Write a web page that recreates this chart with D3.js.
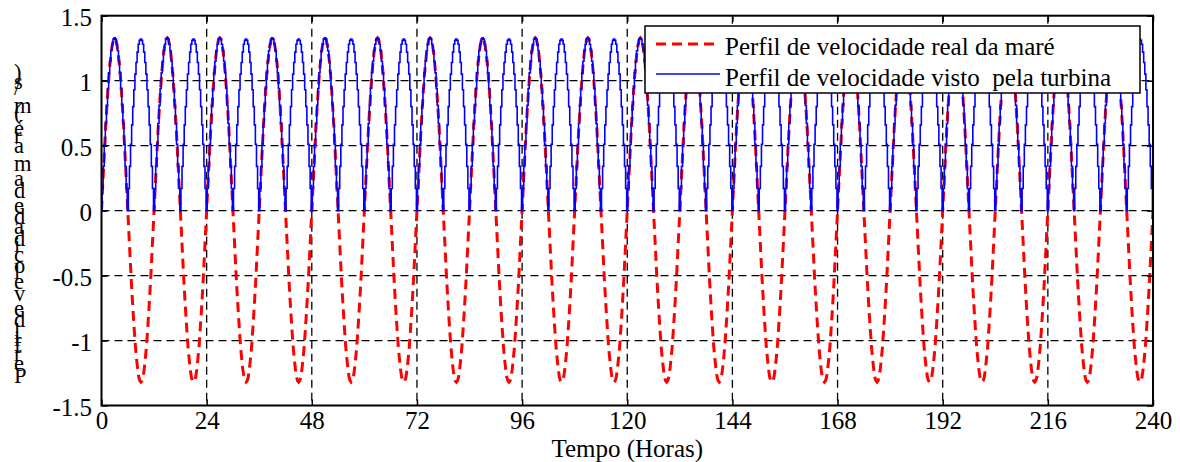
<!DOCTYPE html>
<html>
<head lang="pt">
    <meta charset="UTF-8">
    <title> Perfil de velocidade </title>
    <script type="text/javascript" src="https://cdn.jsdelivr.net/npm/d3@7/dist/d3.min.js"></script>
    <style>
        body { margin: 0; background: #fff; }
        text { font-family: "Liberation Serif", "Times New Roman", serif; fill: #000; }
    </style>
</head>
<body>
<div id="chart"></div>

<script>

    // samples every 15 minutes
    var stepHours = 0.25;

    var xTicks = [0, 24, 48, 72, 96, 120, 144, 168, 192, 216, 240];
    var yTicks = [-1.5, -1, -0.5, 0, 0.5, 1, 1.5];
    var xLabel = "Tempo (Horas)";
    var yLabel = "Perfil de velocidade da maré (m/s)";
    var seriesNames = ["Perfil de velocidade real da maré", "Perfil de velocidade visto  pela turbina"];

    // real tide speed (m/s), one row per 12 h cycle
    var tideSpeed = [
        0,0.17,0.34,0.51,0.67,0.81,0.94,1.06,1.15,1.23,1.28,1.32,1.33,1.32,1.28,1.23,1.15,1.06,0.94,0.81,0.67,0.51,0.34,0.17,0,-0.17,-0.34,-0.51,-0.66,-0.8,-0.93,-1.05,-1.14,-1.22,-1.28,-1.31,-1.32,-1.31,-1.28,-1.22,-1.14,-1.05,-0.93,-0.8,-0.66,-0.51,-0.34,-0.17,
        0,0.17,0.34,0.51,0.67,0.81,0.94,1.06,1.15,1.23,1.28,1.32,1.33,1.32,1.28,1.23,1.15,1.06,0.94,0.81,0.67,0.51,0.34,0.17,0,-0.17,-0.34,-0.51,-0.66,-0.8,-0.93,-1.05,-1.14,-1.22,-1.28,-1.31,-1.32,-1.31,-1.28,-1.22,-1.14,-1.05,-0.93,-0.8,-0.66,-0.51,-0.34,-0.17,
        0,0.17,0.34,0.51,0.67,0.81,0.94,1.06,1.15,1.23,1.28,1.32,1.33,1.32,1.28,1.23,1.15,1.06,0.94,0.81,0.67,0.51,0.34,0.17,0,-0.17,-0.34,-0.51,-0.66,-0.8,-0.93,-1.05,-1.14,-1.22,-1.28,-1.31,-1.32,-1.31,-1.28,-1.22,-1.14,-1.05,-0.93,-0.8,-0.66,-0.51,-0.34,-0.17,
        0,0.17,0.34,0.51,0.67,0.81,0.94,1.06,1.15,1.23,1.28,1.32,1.33,1.32,1.28,1.23,1.15,1.06,0.94,0.81,0.67,0.51,0.34,0.17,0,-0.17,-0.34,-0.51,-0.66,-0.8,-0.93,-1.05,-1.14,-1.22,-1.28,-1.31,-1.32,-1.31,-1.28,-1.22,-1.14,-1.05,-0.93,-0.8,-0.66,-0.51,-0.34,-0.17,
        0,0.17,0.34,0.51,0.67,0.81,0.94,1.06,1.15,1.23,1.28,1.32,1.33,1.32,1.28,1.23,1.15,1.06,0.94,0.81,0.67,0.51,0.34,0.17,0,-0.17,-0.34,-0.51,-0.66,-0.8,-0.93,-1.05,-1.14,-1.22,-1.28,-1.31,-1.32,-1.31,-1.28,-1.22,-1.14,-1.05,-0.93,-0.8,-0.66,-0.51,-0.34,-0.17,
        0,0.17,0.34,0.51,0.67,0.81,0.94,1.06,1.15,1.23,1.28,1.32,1.33,1.32,1.28,1.23,1.15,1.06,0.94,0.81,0.67,0.51,0.34,0.17,0,-0.17,-0.34,-0.51,-0.66,-0.8,-0.93,-1.05,-1.14,-1.22,-1.28,-1.31,-1.32,-1.31,-1.28,-1.22,-1.14,-1.05,-0.93,-0.8,-0.66,-0.51,-0.34,-0.17,
        0,0.17,0.34,0.51,0.67,0.81,0.94,1.06,1.15,1.23,1.28,1.32,1.33,1.32,1.28,1.23,1.15,1.06,0.94,0.81,0.67,0.51,0.34,0.17,0,-0.17,-0.34,-0.51,-0.66,-0.8,-0.93,-1.05,-1.14,-1.22,-1.28,-1.31,-1.32,-1.31,-1.28,-1.22,-1.14,-1.05,-0.93,-0.8,-0.66,-0.51,-0.34,-0.17,
        0,0.17,0.34,0.51,0.67,0.81,0.94,1.06,1.15,1.23,1.28,1.32,1.33,1.32,1.28,1.23,1.15,1.06,0.94,0.81,0.67,0.51,0.34,0.17,0,-0.17,-0.34,-0.51,-0.66,-0.8,-0.93,-1.05,-1.14,-1.22,-1.28,-1.31,-1.32,-1.31,-1.28,-1.22,-1.14,-1.05,-0.93,-0.8,-0.66,-0.51,-0.34,-0.17,
        0,0.17,0.34,0.51,0.67,0.81,0.94,1.06,1.15,1.23,1.28,1.32,1.33,1.32,1.28,1.23,1.15,1.06,0.94,0.81,0.67,0.51,0.34,0.17,0,-0.17,-0.34,-0.51,-0.66,-0.8,-0.93,-1.05,-1.14,-1.22,-1.28,-1.31,-1.32,-1.31,-1.28,-1.22,-1.14,-1.05,-0.93,-0.8,-0.66,-0.51,-0.34,-0.17,
        0,0.17,0.34,0.51,0.67,0.81,0.94,1.06,1.15,1.23,1.28,1.32,1.33,1.32,1.28,1.23,1.15,1.06,0.94,0.81,0.67,0.51,0.34,0.17,0,-0.17,-0.34,-0.51,-0.66,-0.8,-0.93,-1.05,-1.14,-1.22,-1.28,-1.31,-1.32,-1.31,-1.28,-1.22,-1.14,-1.05,-0.93,-0.8,-0.66,-0.51,-0.34,-0.17,
        0,0.17,0.34,0.51,0.67,0.81,0.94,1.06,1.15,1.23,1.28,1.32,1.33,1.32,1.28,1.23,1.15,1.06,0.94,0.81,0.67,0.51,0.34,0.17,0,-0.17,-0.34,-0.51,-0.66,-0.8,-0.93,-1.05,-1.14,-1.22,-1.28,-1.31,-1.32,-1.31,-1.28,-1.22,-1.14,-1.05,-0.93,-0.8,-0.66,-0.51,-0.34,-0.17,
        0,0.17,0.34,0.51,0.67,0.81,0.94,1.06,1.15,1.23,1.28,1.32,1.33,1.32,1.28,1.23,1.15,1.06,0.94,0.81,0.67,0.51,0.34,0.17,0,-0.17,-0.34,-0.51,-0.66,-0.8,-0.93,-1.05,-1.14,-1.22,-1.28,-1.31,-1.32,-1.31,-1.28,-1.22,-1.14,-1.05,-0.93,-0.8,-0.66,-0.51,-0.34,-0.17,
        0,0.17,0.34,0.51,0.67,0.81,0.94,1.06,1.15,1.23,1.28,1.32,1.33,1.32,1.28,1.23,1.15,1.06,0.94,0.81,0.67,0.51,0.34,0.17,0,-0.17,-0.34,-0.51,-0.66,-0.8,-0.93,-1.05,-1.14,-1.22,-1.28,-1.31,-1.32,-1.31,-1.28,-1.22,-1.14,-1.05,-0.93,-0.8,-0.66,-0.51,-0.34,-0.17,
        0,0.17,0.34,0.51,0.67,0.81,0.94,1.06,1.15,1.23,1.28,1.32,1.33,1.32,1.28,1.23,1.15,1.06,0.94,0.81,0.67,0.51,0.34,0.17,0,-0.17,-0.34,-0.51,-0.66,-0.8,-0.93,-1.05,-1.14,-1.22,-1.28,-1.31,-1.32,-1.31,-1.28,-1.22,-1.14,-1.05,-0.93,-0.8,-0.66,-0.51,-0.34,-0.17,
        0,0.17,0.34,0.51,0.67,0.81,0.94,1.06,1.15,1.23,1.28,1.32,1.33,1.32,1.28,1.23,1.15,1.06,0.94,0.81,0.67,0.51,0.34,0.17,0,-0.17,-0.34,-0.51,-0.66,-0.8,-0.93,-1.05,-1.14,-1.22,-1.28,-1.31,-1.32,-1.31,-1.28,-1.22,-1.14,-1.05,-0.93,-0.8,-0.66,-0.51,-0.34,-0.17,
        0,0.17,0.34,0.51,0.67,0.81,0.94,1.06,1.15,1.23,1.28,1.32,1.33,1.32,1.28,1.23,1.15,1.06,0.94,0.81,0.67,0.51,0.34,0.17,0,-0.17,-0.34,-0.51,-0.66,-0.8,-0.93,-1.05,-1.14,-1.22,-1.28,-1.31,-1.32,-1.31,-1.28,-1.22,-1.14,-1.05,-0.93,-0.8,-0.66,-0.51,-0.34,-0.17,
        0,0.17,0.34,0.51,0.67,0.81,0.94,1.06,1.15,1.23,1.28,1.32,1.33,1.32,1.28,1.23,1.15,1.06,0.94,0.81,0.67,0.51,0.34,0.17,0,-0.17,-0.34,-0.51,-0.66,-0.8,-0.93,-1.05,-1.14,-1.22,-1.28,-1.31,-1.32,-1.31,-1.28,-1.22,-1.14,-1.05,-0.93,-0.8,-0.66,-0.51,-0.34,-0.17,
        0,0.17,0.34,0.51,0.67,0.81,0.94,1.06,1.15,1.23,1.28,1.32,1.33,1.32,1.28,1.23,1.15,1.06,0.94,0.81,0.67,0.51,0.34,0.17,0,-0.17,-0.34,-0.51,-0.66,-0.8,-0.93,-1.05,-1.14,-1.22,-1.28,-1.31,-1.32,-1.31,-1.28,-1.22,-1.14,-1.05,-0.93,-0.8,-0.66,-0.51,-0.34,-0.17,
        0,0.17,0.34,0.51,0.67,0.81,0.94,1.06,1.15,1.23,1.28,1.32,1.33,1.32,1.28,1.23,1.15,1.06,0.94,0.81,0.67,0.51,0.34,0.17,0,-0.17,-0.34,-0.51,-0.66,-0.8,-0.93,-1.05,-1.14,-1.22,-1.28,-1.31,-1.32,-1.31,-1.28,-1.22,-1.14,-1.05,-0.93,-0.8,-0.66,-0.51,-0.34,-0.17,
        0,0.17,0.34,0.51,0.67,0.81,0.94,1.06,1.15,1.23,1.28,1.32,1.33,1.32,1.28,1.23,1.15,1.06,0.94,0.81,0.67,0.51,0.34,0.17,0,-0.17,-0.34,-0.51,-0.66,-0.8,-0.93,-1.05,-1.14,-1.22,-1.28,-1.31,-1.32,-1.31,-1.28,-1.22,-1.14,-1.05,-0.93,-0.8,-0.66,-0.51,-0.34,-0.17,
        0
    ];

    // speed seen by the turbine (m/s)
    var turbineSpeed = [
        0,0.17,0.34,0.51,0.67,0.81,0.94,1.06,1.15,1.23,1.28,1.32,1.33,1.32,1.28,1.23,1.15,1.06,0.94,0.81,0.67,0.51,0.34,0.17,0,0.17,0.34,0.51,0.66,0.8,0.93,1.05,1.14,1.22,1.28,1.31,1.32,1.31,1.28,1.22,1.14,1.05,0.93,0.8,0.66,0.51,0.34,0.17,
        0,0.17,0.34,0.51,0.67,0.81,0.94,1.06,1.15,1.23,1.28,1.32,1.33,1.32,1.28,1.23,1.15,1.06,0.94,0.81,0.67,0.51,0.34,0.17,0,0.17,0.34,0.51,0.66,0.8,0.93,1.05,1.14,1.22,1.28,1.31,1.32,1.31,1.28,1.22,1.14,1.05,0.93,0.8,0.66,0.51,0.34,0.17,
        0,0.17,0.34,0.51,0.67,0.81,0.94,1.06,1.15,1.23,1.28,1.32,1.33,1.32,1.28,1.23,1.15,1.06,0.94,0.81,0.67,0.51,0.34,0.17,0,0.17,0.34,0.51,0.66,0.8,0.93,1.05,1.14,1.22,1.28,1.31,1.32,1.31,1.28,1.22,1.14,1.05,0.93,0.8,0.66,0.51,0.34,0.17,
        0,0.17,0.34,0.51,0.67,0.81,0.94,1.06,1.15,1.23,1.28,1.32,1.33,1.32,1.28,1.23,1.15,1.06,0.94,0.81,0.67,0.51,0.34,0.17,0,0.17,0.34,0.51,0.66,0.8,0.93,1.05,1.14,1.22,1.28,1.31,1.32,1.31,1.28,1.22,1.14,1.05,0.93,0.8,0.66,0.51,0.34,0.17,
        0,0.17,0.34,0.51,0.67,0.81,0.94,1.06,1.15,1.23,1.28,1.32,1.33,1.32,1.28,1.23,1.15,1.06,0.94,0.81,0.67,0.51,0.34,0.17,0,0.17,0.34,0.51,0.66,0.8,0.93,1.05,1.14,1.22,1.28,1.31,1.32,1.31,1.28,1.22,1.14,1.05,0.93,0.8,0.66,0.51,0.34,0.17,
        0,0.17,0.34,0.51,0.67,0.81,0.94,1.06,1.15,1.23,1.28,1.32,1.33,1.32,1.28,1.23,1.15,1.06,0.94,0.81,0.67,0.51,0.34,0.17,0,0.17,0.34,0.51,0.66,0.8,0.93,1.05,1.14,1.22,1.28,1.31,1.32,1.31,1.28,1.22,1.14,1.05,0.93,0.8,0.66,0.51,0.34,0.17,
        0,0.17,0.34,0.51,0.67,0.81,0.94,1.06,1.15,1.23,1.28,1.32,1.33,1.32,1.28,1.23,1.15,1.06,0.94,0.81,0.67,0.51,0.34,0.17,0,0.17,0.34,0.51,0.66,0.8,0.93,1.05,1.14,1.22,1.28,1.31,1.32,1.31,1.28,1.22,1.14,1.05,0.93,0.8,0.66,0.51,0.34,0.17,
        0,0.17,0.34,0.51,0.67,0.81,0.94,1.06,1.15,1.23,1.28,1.32,1.33,1.32,1.28,1.23,1.15,1.06,0.94,0.81,0.67,0.51,0.34,0.17,0,0.17,0.34,0.51,0.66,0.8,0.93,1.05,1.14,1.22,1.28,1.31,1.32,1.31,1.28,1.22,1.14,1.05,0.93,0.8,0.66,0.51,0.34,0.17,
        0,0.17,0.34,0.51,0.67,0.81,0.94,1.06,1.15,1.23,1.28,1.32,1.33,1.32,1.28,1.23,1.15,1.06,0.94,0.81,0.67,0.51,0.34,0.17,0,0.17,0.34,0.51,0.66,0.8,0.93,1.05,1.14,1.22,1.28,1.31,1.32,1.31,1.28,1.22,1.14,1.05,0.93,0.8,0.66,0.51,0.34,0.17,
        0,0.17,0.34,0.51,0.67,0.81,0.94,1.06,1.15,1.23,1.28,1.32,1.33,1.32,1.28,1.23,1.15,1.06,0.94,0.81,0.67,0.51,0.34,0.17,0,0.17,0.34,0.51,0.66,0.8,0.93,1.05,1.14,1.22,1.28,1.31,1.32,1.31,1.28,1.22,1.14,1.05,0.93,0.8,0.66,0.51,0.34,0.17,
        0,0.17,0.34,0.51,0.67,0.81,0.94,1.06,1.15,1.23,1.28,1.32,1.33,1.32,1.28,1.23,1.15,1.06,0.94,0.81,0.67,0.51,0.34,0.17,0,0.17,0.34,0.51,0.66,0.8,0.93,1.05,1.14,1.22,1.28,1.31,1.32,1.31,1.28,1.22,1.14,1.05,0.93,0.8,0.66,0.51,0.34,0.17,
        0,0.17,0.34,0.51,0.67,0.81,0.94,1.06,1.15,1.23,1.28,1.32,1.33,1.32,1.28,1.23,1.15,1.06,0.94,0.81,0.67,0.51,0.34,0.17,0,0.17,0.34,0.51,0.66,0.8,0.93,1.05,1.14,1.22,1.28,1.31,1.32,1.31,1.28,1.22,1.14,1.05,0.93,0.8,0.66,0.51,0.34,0.17,
        0,0.17,0.34,0.51,0.67,0.81,0.94,1.06,1.15,1.23,1.28,1.32,1.33,1.32,1.28,1.23,1.15,1.06,0.94,0.81,0.67,0.51,0.34,0.17,0,0.17,0.34,0.51,0.66,0.8,0.93,1.05,1.14,1.22,1.28,1.31,1.32,1.31,1.28,1.22,1.14,1.05,0.93,0.8,0.66,0.51,0.34,0.17,
        0,0.17,0.34,0.51,0.67,0.81,0.94,1.06,1.15,1.23,1.28,1.32,1.33,1.32,1.28,1.23,1.15,1.06,0.94,0.81,0.67,0.51,0.34,0.17,0,0.17,0.34,0.51,0.66,0.8,0.93,1.05,1.14,1.22,1.28,1.31,1.32,1.31,1.28,1.22,1.14,1.05,0.93,0.8,0.66,0.51,0.34,0.17,
        0,0.17,0.34,0.51,0.67,0.81,0.94,1.06,1.15,1.23,1.28,1.32,1.33,1.32,1.28,1.23,1.15,1.06,0.94,0.81,0.67,0.51,0.34,0.17,0,0.17,0.34,0.51,0.66,0.8,0.93,1.05,1.14,1.22,1.28,1.31,1.32,1.31,1.28,1.22,1.14,1.05,0.93,0.8,0.66,0.51,0.34,0.17,
        0,0.17,0.34,0.51,0.67,0.81,0.94,1.06,1.15,1.23,1.28,1.32,1.33,1.32,1.28,1.23,1.15,1.06,0.94,0.81,0.67,0.51,0.34,0.17,0,0.17,0.34,0.51,0.66,0.8,0.93,1.05,1.14,1.22,1.28,1.31,1.32,1.31,1.28,1.22,1.14,1.05,0.93,0.8,0.66,0.51,0.34,0.17,
        0,0.17,0.34,0.51,0.67,0.81,0.94,1.06,1.15,1.23,1.28,1.32,1.33,1.32,1.28,1.23,1.15,1.06,0.94,0.81,0.67,0.51,0.34,0.17,0,0.17,0.34,0.51,0.66,0.8,0.93,1.05,1.14,1.22,1.28,1.31,1.32,1.31,1.28,1.22,1.14,1.05,0.93,0.8,0.66,0.51,0.34,0.17,
        0,0.17,0.34,0.51,0.67,0.81,0.94,1.06,1.15,1.23,1.28,1.32,1.33,1.32,1.28,1.23,1.15,1.06,0.94,0.81,0.67,0.51,0.34,0.17,0,0.17,0.34,0.51,0.66,0.8,0.93,1.05,1.14,1.22,1.28,1.31,1.32,1.31,1.28,1.22,1.14,1.05,0.93,0.8,0.66,0.51,0.34,0.17,
        0,0.17,0.34,0.51,0.67,0.81,0.94,1.06,1.15,1.23,1.28,1.32,1.33,1.32,1.28,1.23,1.15,1.06,0.94,0.81,0.67,0.51,0.34,0.17,0,0.17,0.34,0.51,0.66,0.8,0.93,1.05,1.14,1.22,1.28,1.31,1.32,1.31,1.28,1.22,1.14,1.05,0.93,0.8,0.66,0.51,0.34,0.17,
        0,0.17,0.34,0.51,0.67,0.81,0.94,1.06,1.15,1.23,1.28,1.32,1.33,1.32,1.28,1.23,1.15,1.06,0.94,0.81,0.67,0.51,0.34,0.17,0,0.17,0.34,0.51,0.66,0.8,0.93,1.05,1.14,1.22,1.28,1.31,1.32,1.31,1.28,1.22,1.14,1.05,0.93,0.8,0.66,0.51,0.34,0.17,
        0
    ];

    var hours = tideSpeed.map(function (d, i) { return i * stepHours; });


    // Chart

    var width = 1180, height = 462;
    var margin = {left: 101.5, right: 27, top: 15.7, bottom: 56.5};
    var fontSize = 25;

    var svg = d3.select("#chart").append("svg")
            .attr("width", width)
            .attr("height", height);

    var x = d3.scaleLinear().domain([0, 240]).range([margin.left, width - margin.right]);
    var y = d3.scaleLinear().domain([-1.5, 1.5]).range([height - margin.bottom, margin.top]);

    svg.append("clipPath").attr("id", "plotArea")
            .append("rect")
            .attr("x", x(0)).attr("y", y(1.5))
            .attr("width", x(240) - x(0)).attr("height", y(-1.5) - y(1.5));

    // grid
    var grid = svg.append("g").attr("class", "grid")
            .style("stroke", "#000").style("stroke-width", 1.3).style("stroke-dasharray", "8,5");
    grid.selectAll("line.gx").data(xTicks.slice(1, -1)).enter().append("line")
            .attr("x1", function (d) { return x(d); }).attr("x2", function (d) { return x(d); })
            .attr("y1", y(1.5)).attr("y2", y(-1.5));
    grid.selectAll("line.gy").data(yTicks.slice(1, -1)).enter().append("line")
            .attr("x1", x(0)).attr("x2", x(240))
            .attr("y1", function (d) { return y(d); }).attr("y2", function (d) { return y(d); });

    // curves
    var curves = svg.append("g").attr("clip-path", "url(#plotArea)");

    var tideLine = d3.line()
            .x(function (d, i) { return x(hours[i]); })
            .y(function (d) { return y(d); });

    var turbineLine = d3.line()
            .curve(d3.curveStep)
            .x(function (d, i) { return x(hours[i]); })
            .y(function (d) { return y(d); });

    curves.append("path").datum(tideSpeed)
            .attr("d", tideLine)
            .style("fill", "none").style("stroke", "#ff0000")
            .style("stroke-width", 3).style("stroke-dasharray", "10,6");

    curves.append("path").datum(turbineSpeed)
            .attr("d", turbineLine)
            .style("fill", "none").style("stroke", "#0000ff")
            .style("stroke-width", 1.6);

    // axes (ticks pointing inward, on all four sides)
    function styleAxis(g) {
        g.attr("font-family", null).attr("font-size", null);
        g.select(".domain").remove();
        g.selectAll(".tick line").style("stroke", "#000").style("stroke-width", 1.5);
        g.selectAll(".tick text").style("font-size", fontSize + "px");
    }

    svg.append("g").attr("transform", "translate(0," + y(-1.5) + ")")
            .call(d3.axisBottom(x).tickValues(xTicks).tickSizeInner(-6).tickSizeOuter(0).tickPadding(6))
            .call(styleAxis);
    svg.append("g").attr("transform", "translate(0," + y(1.5) + ")")
            .call(d3.axisTop(x).tickValues(xTicks).tickSizeInner(-6).tickSizeOuter(0).tickFormat(""))
            .call(styleAxis);
    svg.append("g").attr("transform", "translate(" + x(0) + ",0)")
            .call(d3.axisLeft(y).tickValues(yTicks).tickSizeInner(-6).tickSizeOuter(0).tickPadding(9.5)
                    .tickFormat(function (d) { return String(d); }))
            .call(styleAxis)
            .selectAll(".tick text").attr("dy", "0.4em");
    svg.append("g").attr("transform", "translate(" + x(240) + ",0)")
            .call(d3.axisRight(y).tickValues(yTicks).tickSizeInner(-6).tickSizeOuter(0).tickFormat(""))
            .call(styleAxis);

    // frame
    svg.append("rect")
            .attr("x", x(0)).attr("y", y(1.5))
            .attr("width", x(240) - x(0)).attr("height", y(-1.5) - y(1.5))
            .style("fill", "none").style("stroke", "#000").style("stroke-width", 2);

    // x label
    svg.append("text")
            .attr("x", (x(0) + x(240)) / 2).attr("y", 457)
            .attr("text-anchor", "middle")
            .style("font-size", fontSize + "px")
            .text(xLabel);

    // y label: one text, upright glyphs stacked upwards, each spaced by its advance width
    var yLabelSize = 22.5;
    var ctx = document.createElement("canvas").getContext("2d");
    ctx.font = yLabelSize + "px 'Liberation Serif'";
    var pos = 383;
    var glyphY = [];
    var glyphs = "";
    yLabel.split("").forEach(function (ch) {
        if (ch !== " ") {
            glyphs += ch;
            glyphY.push(pos.toFixed(1));
        }
        pos -= ctx.measureText(ch).width;
    });
    svg.append("text")
            .attr("x", glyphY.map(function () { return 14; }).join(" "))
            .attr("y", glyphY.join(" "))
            .style("font-size", yLabelSize + "px")
            .text(glyphs);

    // legend
    var legend = svg.append("g");
    legend.append("rect")
            .attr("x", 645).attr("y", 26).attr("width", 495).attr("height", 67)
            .style("fill", "#fff").style("stroke", "#000").style("stroke-width", 1.5);
    legend.append("line")
            .attr("x1", 656).attr("x2", 714).attr("y1", 44).attr("y2", 44)
            .style("stroke", "#ff0000").style("stroke-width", 3).style("stroke-dasharray", "10,6");
    legend.append("line")
            .attr("x1", 656).attr("x2", 720).attr("y1", 74).attr("y2", 74)
            .style("stroke", "#0000ff").style("stroke-width", 1.6);
    legend.selectAll("text.name").data(seriesNames).enter().append("text")
            .attr("x", 725)
            .attr("y", function (d, i) { return 54.5 + i * 31; })
            .style("font-size", fontSize + "px")
            .style("white-space", "pre")
            .text(function (d) { return d; });

</script>

</body>
</html>
